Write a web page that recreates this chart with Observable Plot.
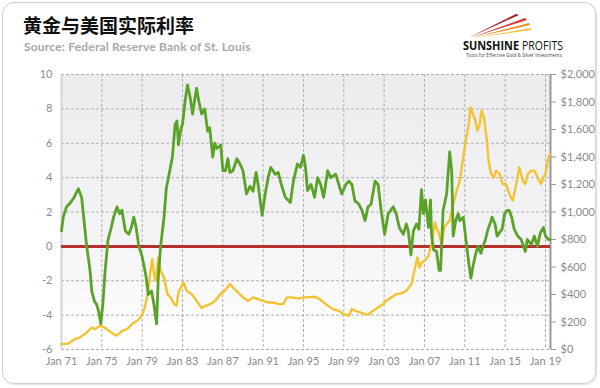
<!DOCTYPE html>
<html><head><meta charset="utf-8">
<script src="https://cdn.jsdelivr.net/npm/d3@7"></script>
<script src="https://cdn.jsdelivr.net/npm/@observablehq/plot@0.6"></script>
<style>
body{margin:0;background:#fff;}
#wrap{position:relative;width:600px;height:388px;overflow:hidden;background:#fff;}
#card{position:absolute;left:2px;top:2px;width:592px;height:380px;border:1.5px solid #cfcfcf;border-radius:12px;box-shadow:1px 1px 2px rgba(0,0,0,.12);}
#title{position:absolute;left:23px;top:15px;font:bold 19px/1 "Noto Sans CJK SC";color:#111;white-space:nowrap;}
#sub{position:absolute;left:24px;top:41px;font:bold 12px/1 Lato;letter-spacing:0.2px;color:#a8a8a8;white-space:nowrap;}
#chart{position:absolute;left:0;top:0;}
#logo{position:absolute;left:0;top:0;}
</style></head>
<body>
<div id="wrap">
  <div id="card"></div>
  <div id="chart"></div>
  <div id="title">黄金与美国实际利率</div>
  <div id="sub">Source: Federal Reserve Bank of St. Louis</div>
  <svg id="logo" width="600" height="70" xmlns="http://www.w3.org/2000/svg">
    <path d="M468,38 L516,14 L519,15 Z" fill="#a31f24"/>
    <path d="M470,38 L525,18 L527,20 Z" fill="#d9352b"/>
    <path d="M472,38 L529,23 L530,25 Z" fill="#f08a1c"/>
    <path d="M474,38 L531,28 L531,30 Z" fill="#f6c445"/>
    <text x="463" y="49.5" textLength="56" lengthAdjust="spacingAndGlyphs" font-family="Open Sans" font-weight="bold" font-size="12" fill="#111">SUNSHINE</text>
    <text x="522" y="49.5" textLength="41" lengthAdjust="spacingAndGlyphs" font-family="Open Sans" font-size="12" fill="#111">PROFITS</text>
    <text x="466" y="57.3" textLength="96" lengthAdjust="spacingAndGlyphs" font-family="Open Sans" font-size="4.5" fill="#444">Tools for Effective Gold &amp; Silver Investments</text>
  </svg>
</div>
<script>
// Real interest rate (%), left axis
const rateYears = [1971.0,1971.17,1971.5,1971.83,1972.2,1972.67,1973.0,1973.27,1973.5,1973.83,1974.0,1974.27,1974.5,1974.67,1974.9,1975.1,1975.33,1975.6,1975.93,1976.17,1976.5,1976.77,1977.0,1977.33,1977.67,1977.93,1978.17,1978.4,1978.67,1979.0,1979.4,1979.6,1979.93,1980.17,1980.43,1980.6,1980.83,1981.17,1981.4,1981.67,1982.0,1982.27,1982.45,1982.6,1982.83,1983.0,1983.27,1983.5,1983.75,1984.0,1984.2,1984.4,1984.6,1984.9,1985.2,1985.5,1985.7,1986.0,1986.2,1986.4,1986.8,1987.0,1987.25,1987.5,1987.7,1988.0,1988.4,1988.7,1989.0,1989.35,1989.7,1990.0,1990.3,1990.5,1990.9,1991.2,1991.5,1991.75,1992.2,1992.5,1992.8,1993.2,1993.7,1994.0,1994.4,1994.7,1995.0,1995.2,1995.4,1995.75,1996.1,1996.4,1996.7,1997.0,1997.4,1997.7,1998.2,1998.5,1998.8,1999.2,1999.5,1999.8,2000.1,2000.5,2000.8,2001.1,2001.4,2001.7,2002.1,2002.4,2002.7,2003.05,2003.4,2003.9,2004.2,2004.5,2004.9,2005.2,2005.4,2005.65,2005.9,2006.2,2006.45,2006.7,2006.9,2007.1,2007.4,2007.6,2007.7,2007.9,2008.2,2008.45,2008.6,2008.85,2009.2,2009.5,2009.7,2009.85,2010.1,2010.35,2010.5,2010.85,2011.15,2011.4,2011.6,2011.8,2012.05,2012.3,2012.6,2012.8,2013.05,2013.3,2013.6,2013.7,2014.0,2014.2,2014.45,2014.7,2014.95,2015.2,2015.4,2015.65,2015.9,2016.25,2016.6,2017.0,2017.2,2017.6,2017.9,2018.2,2018.5,2018.8,2019.0,2019.3,2019.45];
const realRate = [0.9,1.7,2.3,2.5,2.8,3.35,2.85,1.3,0.0,-1.4,-2.6,-3.2,-3.4,-3.75,-4.5,-3.35,-1.4,0.33,1.1,1.7,2.3,1.9,2.1,0.9,0.7,1.1,1.7,1.1,0.0,-0.6,-1.8,-2.8,-2.6,-3.4,-4.5,-1.8,0.0,1.7,3.4,4.2,5.2,7.1,7.3,5.9,6.8,7.1,8.5,9.4,8.7,7.7,8.5,9.2,8.5,7.7,8.0,6.7,6.9,5.2,6.0,5.7,5.9,4.4,4.4,5.1,4.3,4.4,5.1,4.8,4.4,3.05,3.5,3.2,4.3,3.6,1.8,3.05,4.0,4.6,4.2,4.3,3.6,2.85,2.55,3.8,4.8,4.6,5.3,4.6,3.25,3.6,2.85,4.0,3.6,2.85,4.4,4.0,4.2,3.6,3.05,3.6,3.8,3.6,2.65,2.45,2.1,1.5,2.3,2.45,3.8,3.6,2.1,0.7,1.9,2.3,1.9,1.1,0.7,1.3,0.9,-0.5,0.9,1.3,1.0,3.3,1.9,2.7,1.1,2.7,0.7,-0.2,-0.3,-1.4,-1.4,2.1,3.05,5.5,4.4,0.6,1.5,1.9,1.5,1.7,0.2,-1.0,-1.85,-1.2,-0.5,0.0,-0.4,0.0,0.4,1.0,1.5,1.7,1.3,0.6,0.8,1.0,1.9,2.1,2.1,1.7,1.0,0.6,0.4,-0.3,0.4,0.1,0.6,0.0,0.8,1.1,0.6,0.4,0.4];

// Gold price (USD), right axis
const goldYears = [1971.0,1971.67,1972.3,1972.8,1973.3,1973.67,1974.0,1974.3,1974.8,1975.17,1975.67,1976.17,1976.5,1977.0,1977.5,1978.0,1978.5,1978.83,1979.27,1979.6,1979.83,1980.0,1980.17,1980.33,1980.6,1980.83,1981.17,1981.5,1981.83,1982.17,1982.4,1982.6,1983.0,1983.1,1983.4,1983.9,1984.4,1984.9,1985.25,1985.75,1986.25,1986.75,1987.2,1987.7,1988.0,1988.5,1989.0,1989.5,1990.0,1990.5,1991.0,1991.5,1992.0,1992.5,1993.0,1993.35,1993.85,1994.3,1994.6,1995.0,1995.3,1996.1,1996.6,1997.2,1997.9,1998.5,1999.0,1999.5,1999.8,2000.1,2000.6,2001.1,2001.4,2001.9,2002.4,2002.9,2003.2,2003.7,2004.2,2004.7,2005.2,2005.7,2006.0,2006.3,2006.5,2006.75,2007.05,2007.4,2007.7,2008.05,2008.2,2008.45,2008.7,2008.95,2009.2,2009.5,2009.85,2010.2,2010.5,2010.85,2011.15,2011.4,2011.55,2011.8,2012.05,2012.25,2012.5,2012.65,2012.9,2013.15,2013.35,2013.6,2013.9,2014.1,2014.45,2014.75,2015.1,2015.4,2015.75,2016.1,2016.4,2016.75,2017.0,2017.25,2017.6,2017.9,2018.2,2018.55,2018.8,2019.0,2019.3,2019.45];
const goldPrice = [39,44,75,87,112,136,160,148,172,165,136,112,100,136,148,185,209,233,306,427,573,658,549,500,670,573,524,403,379,330,318,415,476,488,427,403,354,301,318,330,354,403,427,476,452,415,379,354,379,367,354,342,342,330,330,379,379,374,372,379,379,384,367,330,294,282,257,245,294,282,270,257,252,282,306,330,354,379,403,408,427,476,573,670,597,634,646,682,767,925,888,840,767,888,913,937,1058,1155,1228,1398,1544,1641,1762,1714,1665,1592,1641,1738,1690,1544,1374,1277,1252,1301,1277,1204,1204,1131,1083,1204,1325,1228,1204,1277,1301,1301,1252,1204,1252,1277,1398,1422];

const xTicks = [1971,1975,1979,1983,1987,1991,1995,1999,2003,2007,2011,2015,2019];
const yTicks = [-6,-4,-2,0,2,4,6,8,10];
const goldTicks = [0,200,400,600,800,1000,1200,1400,1600,1800,2000];
const xDomain = [1971, 2019.5];
const yDomain = [-6, 10];

// right axis: $0 ↔ -6, $2000 ↔ 10
const toLeft = p => p / 125 - 6;
const toGold = v => (v + 6) * 125;

const rateData = rateYears.map((x, i) => ({x, v: realRate[i]}));
const goldData = goldYears.map((x, i) => ({x, v: toLeft(goldPrice[i])}));

const grid = {stroke: "#b0b0b0", strokeOpacity: 1, strokeDasharray: "3,2", strokeWidth: 1};

const chart = Plot.plot({
  width: 600, height: 388,
  marginLeft: 61, marginRight: 50, marginTop: 74, marginBottom: 39,
  style: {fontFamily: "Lato", fontSize: "11px", background: "transparent", overflow: "visible"},
  x: {domain: xDomain},
  y: {domain: yDomain},
  marks: [
    Plot.frame({fill: "url(#plotbg)", stroke: null}),
    Plot.gridY(yTicks, grid),
    Plot.gridX(xTicks, grid),
    Plot.ruleX([xDomain[0]], {stroke: "#d4d4d4", strokeWidth: 2}),
    Plot.ruleX([xDomain[1]], {stroke: "#9a9a9a", strokeWidth: 2}),
    Plot.axisY(yTicks, {anchor: "left", tickSize: 0, tickPadding: 9, color: "#8a8a8a", label: null, tickFormat: d => String(d)}),
    Plot.axisY(goldTicks.map(toLeft), {anchor: "right", tickSize: 5, tickPadding: 5, stroke: "#9a9a9a", fill: "#8a8a8a", label: null,
      tickFormat: d => "$" + d3.format(",")(Math.round(toGold(d)))}),
    Plot.axisX(xTicks, {tickSize: 0, tickPadding: 8, color: "#8a8a8a", label: null, tickFormat: d => "Jan " + String(d).slice(2)}),
    Plot.ruleY([0], {stroke: "#b5312d", strokeWidth: 3}),
    Plot.line(goldData, {x: "x", y: "v", stroke: "#f3c332", strokeWidth: 2.4}),
    Plot.line(rateData, {x: "x", y: "v", stroke: "#5ba229", strokeWidth: 2.8})
  ]
});

const ns = "http://www.w3.org/2000/svg";
const defs = document.createElementNS(ns, "defs");
const lg = document.createElementNS(ns, "linearGradient");
lg.setAttribute("id", "plotbg");
lg.setAttribute("x1", "0"); lg.setAttribute("y1", "0");
lg.setAttribute("x2", "0"); lg.setAttribute("y2", "1");
[["0", "#ececef"], ["0.6", "#f4f4f6"], ["1", "#ffffff"]].forEach(([o, c]) => {
  const s = document.createElementNS(ns, "stop");
  s.setAttribute("offset", o); s.setAttribute("stop-color", c);
  lg.appendChild(s);
});
defs.appendChild(lg);
chart.insertBefore(defs, chart.firstChild);

document.getElementById("chart").appendChild(chart);
</script>
</body></html>
